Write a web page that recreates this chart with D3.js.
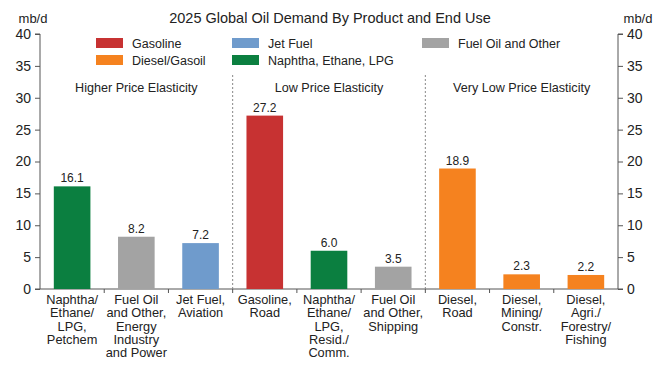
<!DOCTYPE html>
<html><head><meta charset="utf-8">
<script src="https://cdn.jsdelivr.net/npm/d3@7"></script>
<style>body{margin:0;background:#fff}svg{display:block}text{font-family:"Liberation Sans",Arial,sans-serif;fill:#222}</style>
</head><body><svg id="c" width="660" height="367"></svg>
<script>
const categories = [
  ["Naphtha/","Ethane/","LPG,","Petchem"],
  ["Fuel Oil","and Other,","Energy","Industry","and Power"],
  ["Jet Fuel,","Aviation"],
  ["Gasoline,","Road"],
  ["Naphtha/","Ethane/","LPG,","Resid./","Comm."],
  ["Fuel Oil","and Other,","Shipping"],
  ["Diesel,","Road"],
  ["Diesel,","Mining/","Constr."],
  ["Diesel,","Agri./","Forestry/","Fishing"]
];
const values = [16.1, 8.2, 7.2, 27.2, 6.0, 3.5, 18.9, 2.3, 2.2];
const products = ["Naphtha, Ethane, LPG","Fuel Oil and Other","Jet Fuel","Gasoline","Naphtha, Ethane, LPG","Fuel Oil and Other","Diesel/Gasoil","Diesel/Gasoil","Diesel/Gasoil"];
const legendNames = ["Gasoline","Jet Fuel","Fuel Oil and Other","Diesel/Gasoil","Naphtha, Ethane, LPG"];
const legendColors = ["#c73232","#6f9bcc","#a3a3a3","#f5821f","#0b7f40"];
const sections = ["Higher Price Elasticity","Low Price Elasticity","Very Low Price Elasticity"];
const yTicks = [0,5,10,15,20,25,30,35,40];

const svg = d3.select("#c");
const L = 40, R = 618, T = 34, B = 289;
const color = d3.scaleOrdinal(legendNames, legendColors);
const x = d3.scaleBand().domain(d3.range(values.length)).range([L, R]).paddingInner(0.43).paddingOuter(0.215);
const xb = d3.scaleBand().domain(d3.range(values.length)).range([L, R]);
const y = d3.scaleLinear().domain([0, 40]).range([B, T]);

// title
svg.append("text").attr("x", 330).attr("y", 23).attr("text-anchor", "middle").attr("font-size", 14.5).text("2025 Global Oil Demand By Product and End Use");
svg.append("text").attr("x", 33).attr("y", 23).attr("text-anchor", "middle").attr("font-size", 13).text("mb/d");
svg.append("text").attr("x", 638).attr("y", 23).attr("text-anchor", "middle").attr("font-size", 13).text("mb/d");

// axes
const yl = svg.append("g").attr("transform", `translate(${L},0)`).call(d3.axisLeft(y).tickValues(yTicks).tickSize(5).tickPadding(4));
const yr = svg.append("g").attr("transform", `translate(${R},0)`).call(d3.axisRight(y).tickValues(yTicks).tickSize(5).tickPadding(4));
[yl, yr].forEach(g => {
  g.select(".domain").attr("stroke", "#555").attr("d", `M${g===yl?-5:5},${T}H0V${B}H${g===yl?-5:5}`);
  g.selectAll(".tick line").attr("stroke", "#555");
  g.selectAll(".tick text").attr("font-size", 14).attr("fill", "#222").attr("font-family", "Liberation Sans, Arial, sans-serif");
});
// x axis baseline with boundary ticks
const xa = svg.append("g");
xa.append("line").attr("x1", L).attr("x2", R).attr("y1", B).attr("y2", B).attr("stroke", "#555");
xa.selectAll("line.t").data(d3.range(1, values.length)).join("line").attr("class", "t")
  .attr("x1", i => xb(i)).attr("x2", i => xb(i)).attr("y1", B).attr("y2", B + 4).attr("stroke", "#555");

// dividers
[3, 6].forEach(i => svg.append("line").attr("x1", xb(i)).attr("x2", xb(i)).attr("y1", 75).attr("y2", B)
  .attr("stroke", "#888").attr("stroke-dasharray", "2,2").attr("stroke-width", 1));

// section labels
sections.forEach((s, k) => svg.append("text").attr("x", (xb(k*3) + xb(k*3+2) + xb.bandwidth()) / 2).attr("y", 92)
  .attr("text-anchor", "middle").attr("font-size", 12.6).text(s));

// bars
svg.selectAll("rect.bar").data(values).join("rect").attr("class", "bar")
  .attr("x", (d, i) => x(i)).attr("width", x.bandwidth())
  .attr("y", d => y(d)).attr("height", d => B - y(d))
  .attr("fill", (d, i) => color(products[i]));
svg.selectAll("text.val").data(values).join("text").attr("class", "val")
  .attr("x", (d, i) => x(i) + x.bandwidth() / 2).attr("y", d => y(d) - 4)
  .attr("text-anchor", "middle").attr("font-size", 12).text(d => d.toFixed(1));

// category labels
categories.forEach((lines, i) => {
  const t = svg.append("text").attr("x", xb(i) + xb.bandwidth() / 2).attr("y", 304).attr("text-anchor", "middle").attr("font-size", 12.8);
  lines.forEach((ln, j) => t.append("tspan").attr("x", xb(i) + xb.bandwidth() / 2).attr("dy", j ? 13.3 : 0).text(ln));
});

// legend
const legPos = [[96, 43], [232, 43], [422, 43], [96, 60], [232, 60]];
legendNames.forEach((n, k) => {
  const [lx, ly] = legPos[k];
  svg.append("rect").attr("x", lx).attr("y", ly - 5).attr("width", 27).attr("height", 10).attr("fill", legendColors[k]);
  svg.append("text").attr("x", lx + 36).attr("y", ly + 4.5).attr("font-size", 12.5).text(n);
});
</script></body></html>
